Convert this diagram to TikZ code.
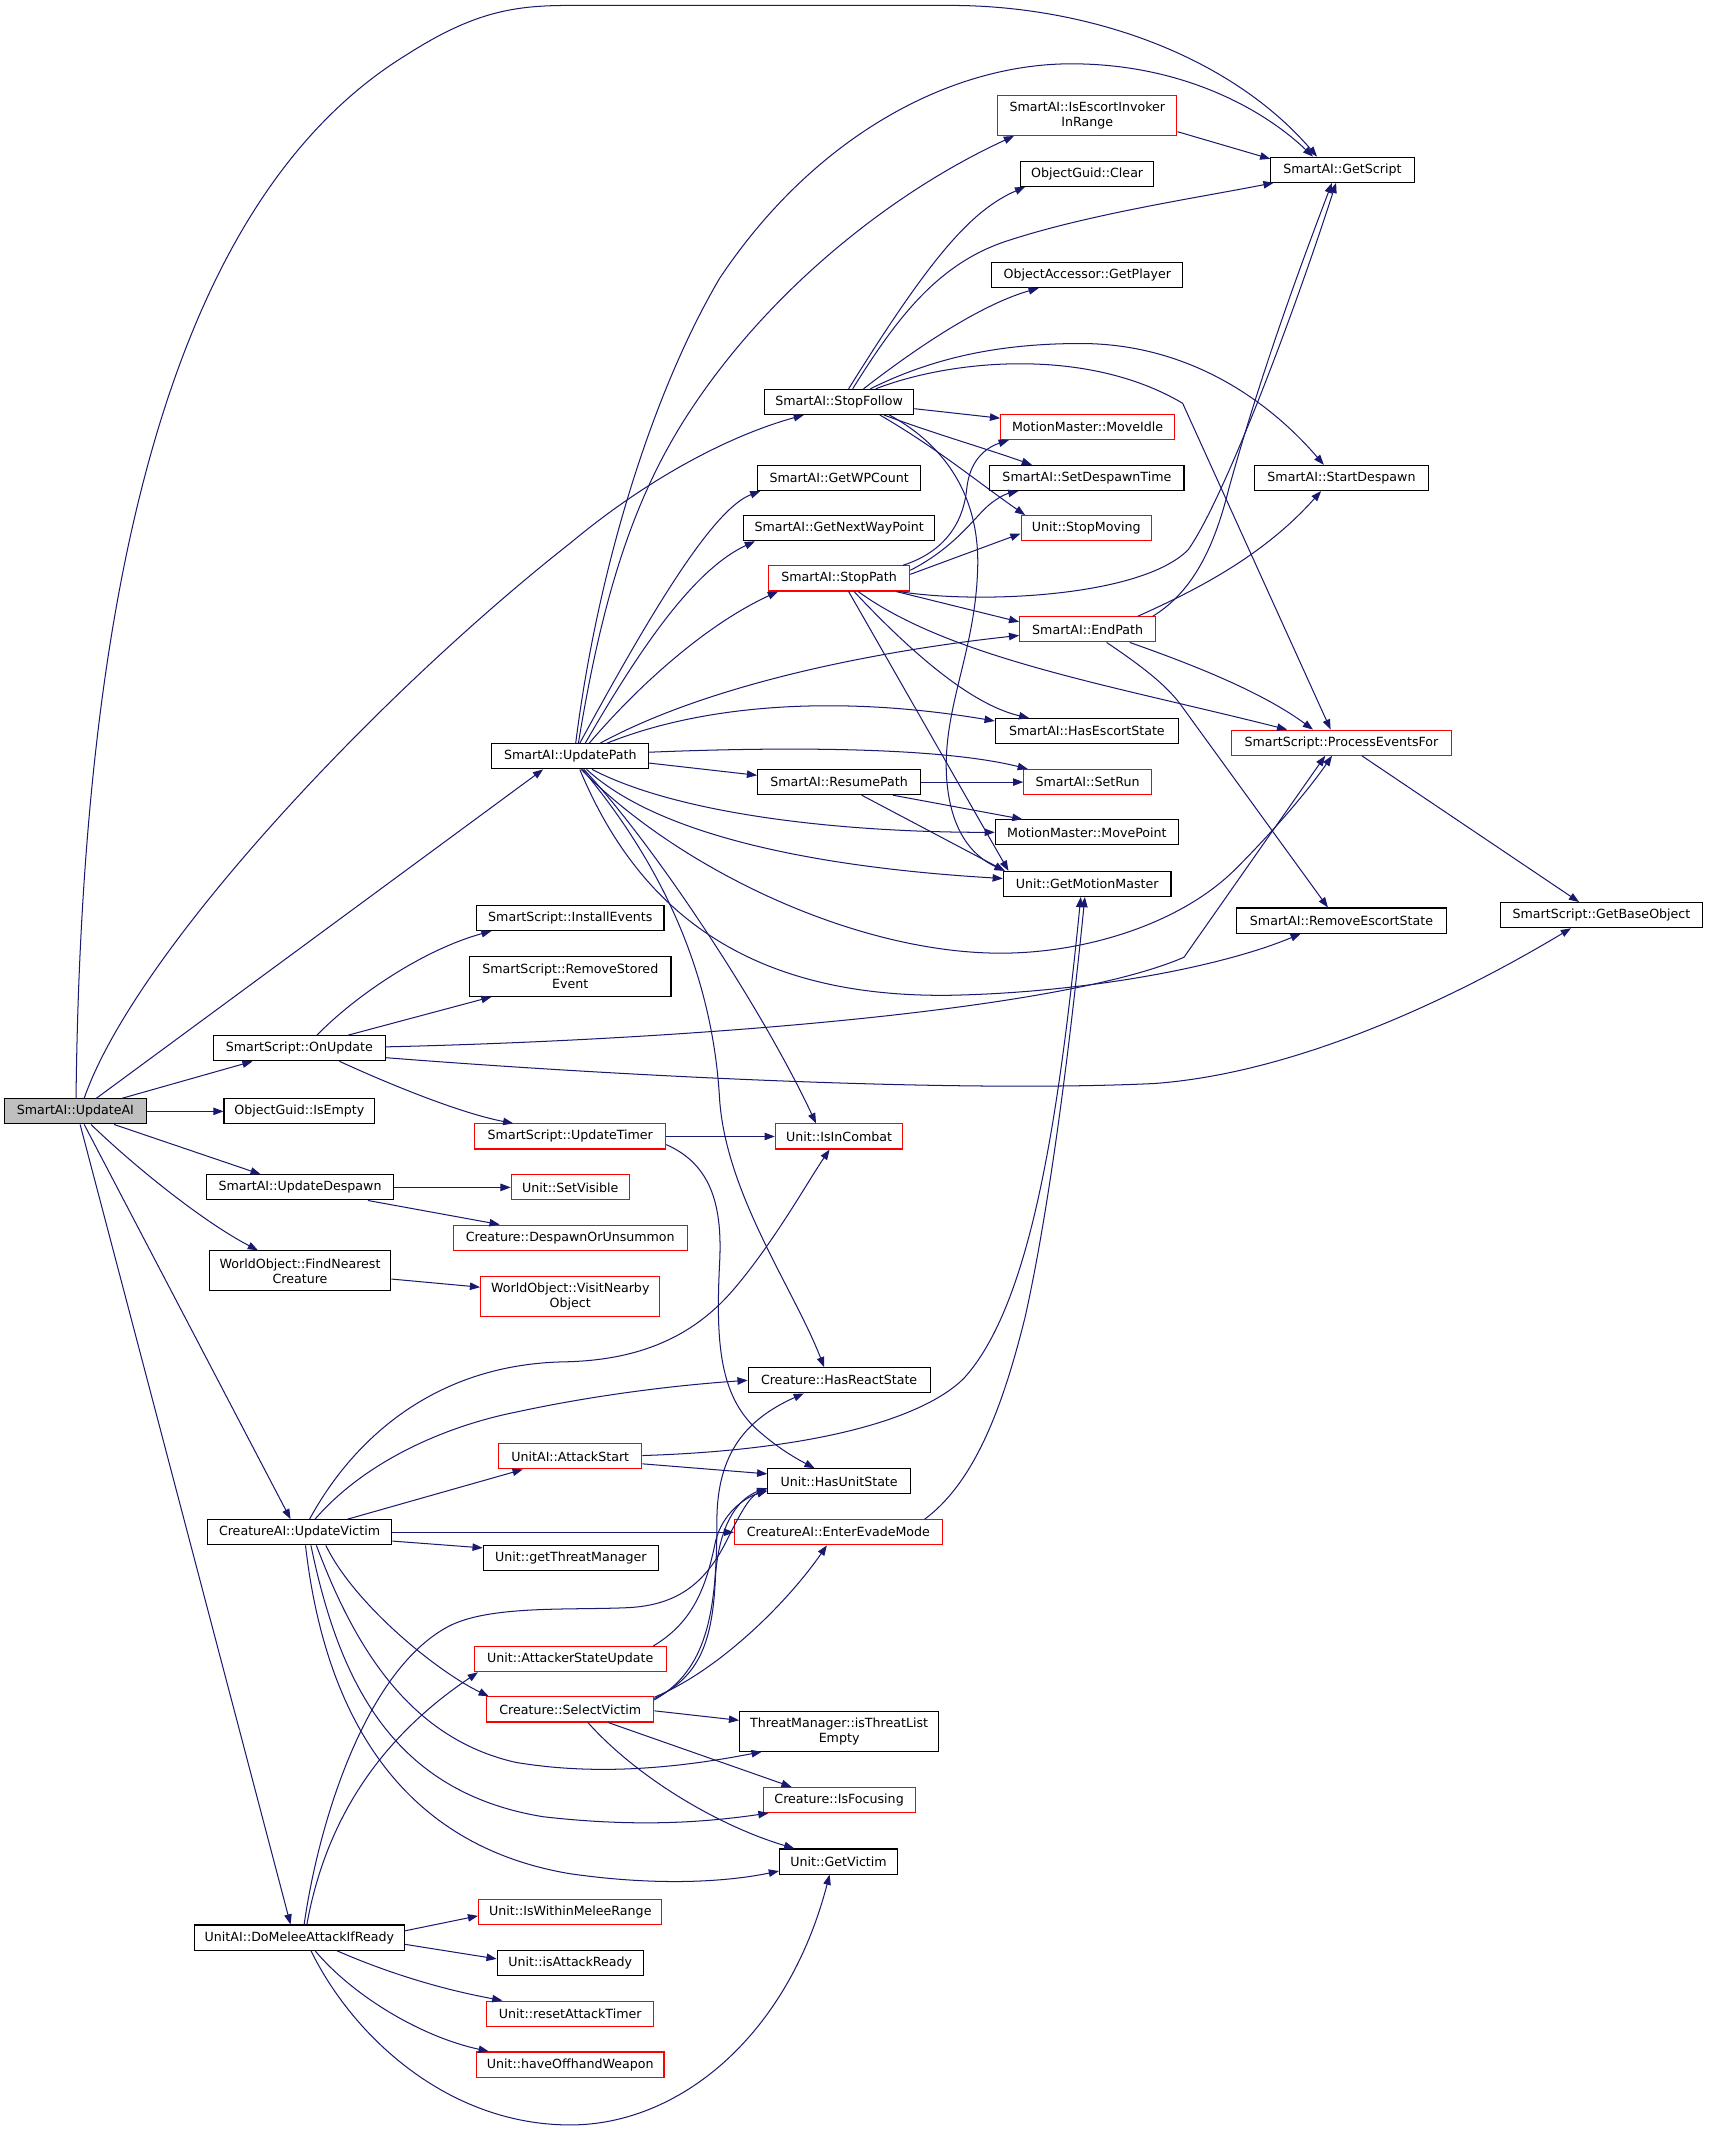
\documentclass[tikz,border=0pt]{standalone}
\usepackage{fontspec}
\setmainfont{DejaVu Sans}
\usetikzlibrary{arrows.meta,calc}
\definecolor{mb}{HTML}{191970}
\definecolor{gbox}{HTML}{BFBFBF}
\newcommand{\nfont}{\fontsize{9.3}{11}\selectfont}
\begin{document}
\begin{tikzpicture}[x=1pt,y=-1pt,
 nb/.style={draw=black,line width=0.8pt,fill=white,minimum height=18.5pt,inner sep=0pt,font=\nfont,align=center},
 rb/.style={nb,draw=red},
 tb/.style={minimum height=29.5pt},
 e/.style={draw=mb,line width=0.75pt,-{Triangle[length=7.5pt,width=5.5pt]}}]
\fill[white] (0,0) rectangle (1258,1568);
\useasboundingbox (0,0) rectangle (1258,1568);
% ---------- nodes ----------
\node[nb,fill=gbox,minimum width=104.4pt] (ua) at (55.5,818.5) {SmartAI::UpdateAI};
\node[nb,minimum width=105.5pt] (gs) at (988.7,125) {SmartAI::GetScript};
\node[rb,tb,minimum width=132pt] (eir) at (800.8,85) {SmartAI::IsEscortInvoker\\InRange};
\node[nb,minimum width=98pt] (cl) at (800.7,128) {ObjectGuid::Clear};
\node[nb,minimum width=140.5pt] (gp) at (800.8,202.5) {ObjectAccessor::GetPlayer};
\node[nb,minimum width=110pt] (sf) at (618,296) {SmartAI::StopFollow};
\node[rb,minimum width=128pt] (mi) at (801,314.5) {MotionMaster::MoveIdle};
\node[nb,minimum width=143pt] (sdt) at (800.5,352) {SmartAI::SetDespawnTime};
\node[nb,minimum width=128pt] (sd) at (988,352) {SmartAI::StartDespawn};
\node[nb,minimum width=120pt] (wp) at (618,352) {SmartAI::GetWPCount};
\node[nb,minimum width=141pt] (nwp) at (618,389) {SmartAI::GetNextWayPoint};
\node[rb,minimum width=96pt] (sm) at (800,389) {Unit::StopMoving};
\node[rb,minimum width=104pt] (sp) at (618,426) {SmartAI::StopPath};
\node[rb,minimum width=100pt] (ep) at (801,463.5) {SmartAI::EndPath};
\node[nb,minimum width=135pt] (hes) at (800.5,538.5) {SmartAI::HasEscortState};
\node[rb,minimum width=162pt] (pef) at (988,547) {SmartScript::ProcessEventsFor};
\node[nb,minimum width=120pt] (rsp) at (618,576) {SmartAI::ResumePath};
\node[rb,minimum width=94pt] (sr) at (801,576) {SmartAI::SetRun};
\node[nb,minimum width=135pt] (mp) at (800.5,613) {MotionMaster::MovePoint};
\node[nb,minimum width=123.5pt] (gmm) at (800.7,651) {Unit::GetMotionMaster};
\node[nb,minimum width=154pt] (res) at (988,678) {SmartAI::RemoveEscortState};
\node[nb,minimum width=149pt] (gbo) at (1179.5,674) {SmartScript::GetBaseObject};
\node[nb,minimum width=115.5pt] (up) at (420,557) {SmartAI::UpdatePath};
\node[nb,minimum width=138pt] (ie) at (420,676) {SmartScript::InstallEvents};
\node[nb,tb,minimum width=148.4pt] (rse) at (420,719) {SmartScript::RemoveStored\\Event};
\node[nb,minimum width=127pt] (ou) at (220.5,772) {SmartScript::OnUpdate};
\node[nb,minimum width=111pt] (iem) at (220.5,818.5) {ObjectGuid::IsEmpty};
\node[rb,minimum width=140.5pt] (ut) at (420,837) {SmartScript::UpdateTimer};
\node[rb,minimum width=94pt] (iic) at (618,837) {Unit::IsInCombat};
\node[nb,minimum width=137.6pt] (ud) at (221,874.5) {SmartAI::UpdateDespawn};
\node[rb,minimum width=87pt] (sv) at (420,874.5) {Unit::SetVisible};
\node[rb,minimum width=172pt] (dou) at (420,911.5) {Creature::DespawnOrUnsummon};
\node[nb,tb,minimum width=133.7pt] (fnc) at (221,936) {WorldObject::FindNearest\\Creature};
\node[rb,tb,minimum width=132pt] (vno) at (420,955) {WorldObject::VisitNearby\\Object};
\node[nb,minimum width=134pt] (hrs) at (618,1016.6) {Creature::HasReactState};
\node[rb,minimum width=105.4pt] (as) at (420,1072.6) {UnitAI::AttackStart};
\node[nb,minimum width=105pt] (hus) at (618,1091) {Unit::HasUnitState};
\node[nb,minimum width=136pt] (uv) at (220.6,1128.5) {CreatureAI::UpdateVictim};
\node[rb,minimum width=153pt] (eem) at (617.5,1128.5) {CreatureAI::EnterEvadeMode};
\node[nb,minimum width=129pt] (gtm) at (420.4,1147.5) {Unit::getThreatManager};
\node[rb,minimum width=141.5pt] (asu) at (420,1222) {Unit::AttackerStateUpdate};
\node[rb,minimum width=123pt] (svc) at (420,1259) {Creature::SelectVictim};
\node[nb,tb,minimum width=146.5pt] (tle) at (618,1275) {ThreatManager::isThreatList\\Empty};
\node[rb,minimum width=112pt] (ifo) at (618,1325.7) {Creature::IsFocusing};
\node[nb,minimum width=87pt] (gv) at (617.6,1371) {Unit::GetVictim};
\node[rb,minimum width=135pt] (iwm) at (420,1408) {Unit::IsWithinMeleeRange};
\node[nb,minimum width=155pt] (dma) at (220.5,1427) {UnitAI::DoMeleeAttackIfReady};
\node[nb,minimum width=107.6pt] (iar) at (420,1445.7) {Unit::isAttackReady};
\node[rb,minimum width=123pt] (rat) at (420,1483) {Unit::resetAttackTimer};
\node[rb,minimum width=138pt] (how) at (420,1520.5) {Unit::haveOffhandWeapon};
% ---------- edges from UpdateAI ----------
\draw[e] ($(ua.north)+(0.5,0)$) .. controls (60,450) and (120,150) .. (300,40) .. controls (350,8) and (380,4) .. (420,4) -- (700,4) .. controls (800,4) and (905,40) .. ($(gs.north)+(-18.7,0)$);
\draw[e] ($(ua.north)+(15.5,0)$) -- ($(up.south)+(-20,0)$);
\draw[e] ($(ua.north)+(6.5,0)$) .. controls (100,700) and (280,510) .. (420,400) .. controls (480,350) and (540,320) .. ($(sf.south)+(-26,0)$);
\draw[e] ($(ua.north)+(34.5,0)$) -- ($(ou.south)+(-34.5,0)$);
\draw[e] (ua.east) -- (iem.west);
\draw[e] ($(ua.south)+(28.5,0)$) -- ($(ud.north)+(-29,0)$);
\draw[e] ($(ua.south)+(11.5,0)$) .. controls (100,860) and (150,900) .. ($(fnc.north)+(-31,0)$);
\draw[e] ($(ua.south)+(6.5,0)$) -- ($(uv.north)+(-6.6,0)$);
\draw[e] ($(ua.south)+(3.5,0)$) -- ($(dma.north)+(-6.5,0)$);
% ---------- edges from UpdatePath ----------
\draw[e] ($(up.north)+(4,0)$) .. controls (440,420) and (480,290) .. (530,205) .. controls (600,100) and (700,47) .. (789,47) .. controls (870,47) and (930,80) .. ($(gs.north)+(-21.7,0)$);
\draw[e] ($(up.north)+(6,0)$) .. controls (445,430) and (470,360) .. (510,300) .. controls (570,210) and (660,140) .. ($(eir.south)+(-54,0)$);
\draw[e] ($(up.north)+(7,0)$) .. controls (480,450) and (525,375) .. ($(wp.south)+(-58,0)$);
\draw[e] ($(up.north)+(11,0)$) .. controls (470,480) and (510,420) .. ($(nwp.south)+(-62,0)$);
\draw[e] ($(up.north)+(14,0)$) .. controls (470,505) and (520,460) .. ($(sp.south)+(-45,0)$);
\draw[e] ($(up.north)+(22,0)$) .. controls (520,505) and (640,480) .. ($(ep.west)+(0,4.5)$);
\draw[e] ($(up.north)+(27,0)$) .. controls (520,518) and (620,512) .. ($(hes.west)+(0,-7.5)$);
\draw[e] ($(up.east)+(0,-3)$) .. controls (600,549) and (700,552) .. ($(sr.north)+(-44,0)$);
\draw[e] ($(up.east)+(0,5)$) -- ($(rsp.west)+(0,-5)$);
\draw[e] ($(up.south)+(16,0)$) .. controls (500,600) and (620,613) .. (mp.west);
\draw[e] ($(up.south)+(12,0)$) .. controls (490,620) and (620,640) .. ($(gmm.west)+(0,-4)$);
\draw[e] ($(up.south)+(8,0)$) .. controls (500,640) and (630,702) .. (737,702) .. controls (800,702) and (870,680) .. (910,640) .. controls (940,610) and (965,580) .. ($(pef.south)+(-7,0)$);
\draw[e] ($(up.south)+(7,0)$) .. controls (470,670) and (550,735) .. (700,733) .. controls (800,731) and (900,712) .. ($(res.south)+(-30,0)$);
\draw[e] ($(up.south)+(10,0)$) .. controls (480,620) and (560,740) .. ($(iic.north)+(-17,0)$);
\draw[e] ($(up.south)+(9,0)$) .. controls (490,640) and (525,720) .. (530,810) .. controls (535,880) and (585,950) .. ($(hrs.north)+(-11,0)$);
% ---------- others at top ----------
\draw[e] ($(eir.east)+(0,12)$) -- ($(gs.west)+(0,-8)$);
\draw[e] ($(sf.north)+(10,0)$) .. controls (660,235) and (690,195) .. (740,178) .. controls (800,158) and (880,146) .. ($(gs.south)+(-50.7,0)$);
\draw[e] ($(sf.north)+(7,0)$) .. controls (685,190) and (715,155) .. ($(cl.south)+(-45.7,0)$);
\draw[e] ($(sf.north)+(18,0)$) .. controls (670,260) and (720,225) .. ($(gp.south)+(-35.8,0)$);
\draw[e] ($(sf.north)+(23,0)$) .. controls (690,262) and (740,253) .. (796,253) .. controls (870,253) and (930,290) .. ($(sd.north)+(-13,0)$);
\draw[e] ($(sf.north)+(27,0)$) .. controls (700,265) and (800,255) .. (871,297) -- ($(pef.north)+(-8,0)$);
\draw[e] ($(sf.east)+(0,5)$) -- ($(mi.west)+(0,-6.5)$);
\draw[e] ($(sf.south)+(33,0)$) .. controls (690,320) and (725,330) .. ($(sdt.north)+(-40.5,0)$);
\draw[e] ($(sf.south)+(30,0)$) .. controls (690,330) and (720,355) .. ($(sm.north)+(-45,0)$);
\draw[e] ($(sf.south)+(37,0)$) .. controls (700,330) and (722,370) .. (720,420) .. controls (718,480) and (695,520) .. (697,570) .. controls (699,610) and (715,630) .. ($(gmm.north)+(-60.7,0)$);
% StopPath
\draw[e] ($(sp.north)+(47,0)$) .. controls (700,405) and (710,380) .. (712,360) .. controls (714,340) and (725,330) .. ($(mi.south)+(-58,0)$);
\draw[e] ($(sp.east)+(0,-6)$) .. controls (700,405) and (715,385) .. (725,375) .. controls (732,368) and (740,364) .. ($(sdt.south)+(-50.5,0)$);
\draw[e] ($(sp.east)+(0,-3)$) -- ($(sm.west)+(0,4)$);
\draw[e] ($(sp.south)+(44,0)$) .. controls (720,445) and (840,440) .. (875,405) .. controls (900,370) and (950,240) .. ($(gs.south)+(-4.7,0)$);
\draw[e] ($(sp.south)+(42,0)$) -- ($(ep.west)+(0,-5.5)$);
\draw[e] ($(sp.south)+(14,0)$) .. controls (700,485) and (820,505) .. ($(pef.north)+(-40,0)$);
\draw[e] ($(sp.south)+(11,0)$) .. controls (680,490) and (720,520) .. ($(hes.north)+(-42.5,0)$);
\draw[e] ($(sp.south)+(7,0)$) -- ($(gmm.north)+(-58,0)$);
% EndPath
\draw[e] ($(ep.north)+(48,0)$) .. controls (880,435) and (895,400) .. (905,360) .. controls (930,270) and (960,190) .. ($(gs.south)+(-7.7,0)$);
\draw[e] ($(ep.north)+(37,0)$) .. controls (880,435) and (930,410) .. ($(sd.south)+(-15,0)$);
\draw[e] ($(ep.south)+(31,0)$) .. controls (880,490) and (930,510) .. ($(pef.north)+(-21,0)$);
\draw[e] ($(ep.south)+(14,0)$) .. controls (840,490) and (860,505) .. (871,521) -- ($(res.north)+(-10,0)$);
% ResumePath
\draw[e] (rsp.east) -- (sr.west);
\draw[e] ($(rsp.south)+(39.6,0)$) -- ($(mp.north)+(-47.5,0)$);
\draw[e] ($(rsp.south)+(16.6,0)$) -- ($(gmm.north)+(-60.7,0)$);
% OnUpdate
\draw[e] ($(ou.north)+(13,0)$) .. controls (260,735) and (310,700) .. ($(ie.south)+(-58,0)$);
\draw[e] ($(ou.north)+(36,0)$) -- ($(rse.south)+(-58,0)$);
\draw[e] ($(ou.south)+(29.5,0)$) .. controls (290,800) and (340,820) .. ($(ut.north)+(-42,0)$);
\draw[e] ($(ou.east)+(0,-1)$) .. controls (500,766) and (780,745) .. (872,705) -- ($(pef.south)+(-12,0)$);
\draw[e] ($(ou.east)+(0,7)$) .. controls (450,792) and (700,805) .. (850,798) .. controls (960,790) and (1080,730) .. ($(gbo.south)+(-22.5,0)$);
\draw[e] ($(pef.south)+(15,0)$) -- ($(gbo.north)+(-16.5,0)$);
% UpdateTimer, UpdateDespawn, FindNearest
\draw[e] (ut.east) -- (iic.west);
\draw[e] ($(ut.east)+(0,6)$) .. controls (525,858) and (532,890) .. (530,930) .. controls (527,990) and (530,1030) .. (560,1055) .. controls (575,1068) and (588,1075) .. ($(hus.north)+(-18,0)$);
\draw[e] (ud.east) -- (sv.west);
\draw[e] ($(ud.south)+(50,0)$) -- ($(dou.north)+(-52,0)$);
\draw[e] ($(fnc.east)+(0,6)$) -- ($(vno.west)+(0,-7)$);
% UpdateVictim
\draw[e] ($(uv.north)+(7.4,0)$) .. controls (260,1060) and (320,1005) .. (415,1003) .. controls (470,1002) and (510,985) .. (540,950) .. controls (570,915) and (595,870) .. ($(iic.south)+(-7,0)$);
\draw[e] ($(uv.north)+(11.4,0)$) .. controls (270,1075) and (330,1050) .. (380,1040) .. controls (440,1027) and (500,1020) .. (hrs.west);
\draw[e] ($(uv.north)+(35.4,0)$) -- ($(as.south)+(-35,0)$);
\draw[e] (uv.east) -- (eem.west);
\draw[e] ($(uv.east)+(0,6.5)$) -- ($(gtm.west)+(0,-7.5)$);
\draw[e] ($(uv.south)+(19.4,0)$) .. controls (260,1180) and (320,1230) .. ($(svc.north)+(-60,0)$);
\draw[e] ($(uv.south)+(12.4,0)$) .. controls (260,1210) and (300,1280) .. (380,1298) .. controls (440,1308) and (500,1302) .. ($(tle.south)+(-57,0)$);
\draw[e] ($(uv.south)+(8.4,0)$) .. controls (250,1240) and (290,1320) .. (400,1338) .. controls (470,1346) and (520,1342) .. ($(ifo.south)+(-52,0)$);
\draw[e] ($(uv.south)+(4.4,0)$) .. controls (240,1270) and (300,1360) .. (420,1380) .. controls (490,1390) and (540,1385) .. ($(gv.west)+(0,7)$);
% AttackStart, EnterEvadeMode
\draw[e] ($(as.east)+(0,5.5)$) -- ($(hus.west)+(0,-5.5)$);
\draw[e] ($(as.east)+(0,-0.6)$) .. controls (600,1068) and (680,1045) .. (710,1015) .. controls (760,960) and (780,820) .. ($(gmm.south)+(-4.7,0)$);
\draw[e] ($(eem.north)+(63.5,0)$) .. controls (720,1090) and (740,1030) .. (755,970) .. controls (775,880) and (790,750) .. ($(gmm.south)+(-1.7,0)$);
% AttackerStateUpdate, SelectVictim
\draw[e] ($(asu.north)+(61,0)$) .. controls (510,1195) and (520,1170) .. (527,1135) .. controls (532,1115) and (548,1103) .. ($(hus.west)+(0,7)$);
\draw[e] ($(svc.east)+(0,-8)$) .. controls (515,1235) and (525,1210) .. (527,1160) .. controls (530,1120) and (545,1103) .. ($(hus.west)+(0,5)$);
\draw[e] ($(svc.east)+(0,-7)$) .. controls (520,1230) and (528,1190) .. (528,1120) .. controls (528,1070) and (550,1045) .. ($(hrs.south)+(-26,0)$);
\draw[e] ($(svc.east)+(0,-9)$) .. controls (530,1230) and (580,1180) .. ($(eem.south)+(-8.5,0)$);
\draw[e] ($(svc.east)+(0,1)$) -- ($(tle.west)+(0,-8)$);
\draw[e] ($(svc.south)+(28,0)$) -- ($(ifo.north)+(-35,0)$);
\draw[e] ($(svc.south)+(13,0)$) .. controls (470,1310) and (530,1345) .. ($(gv.north)+(-32.6,0)$);
% DoMeleeAttackIfReady
\draw[e] ($(dma.north)+(3.5,0)$) .. controls (235,1340) and (270,1230) .. (330,1198) .. controls (360,1182) and (420,1186) .. (463,1184) .. controls (500,1182) and (520,1165) .. (535,1135) .. controls (545,1115) and (552,1102) .. ($(hus.west)+(0,6)$);
\draw[e] ($(dma.north)+(5.5,0)$) .. controls (240,1340) and (280,1280) .. ($(asu.south)+(-68,0)$);
\draw[e] ($(dma.east)+(0,-5)$) -- ($(iwm.west)+(0,3)$);
\draw[e] ($(dma.east)+(0,5)$) -- ($(iar.west)+(0,-3)$);
\draw[e] ($(dma.south)+(27.5,0)$) .. controls (290,1455) and (330,1466) .. ($(rat.north)+(-50,0)$);
\draw[e] ($(dma.south)+(11.5,0)$) .. controls (260,1470) and (310,1500) .. ($(how.north)+(-60,0)$);
\draw[e] ($(dma.south)+(8.5,0)$) .. controls (260,1500) and (330,1565) .. (420,1565) .. controls (500,1565) and (580,1500) .. ($(gv.south)+(-6.6,0)$);
\end{tikzpicture}
\end{document}
